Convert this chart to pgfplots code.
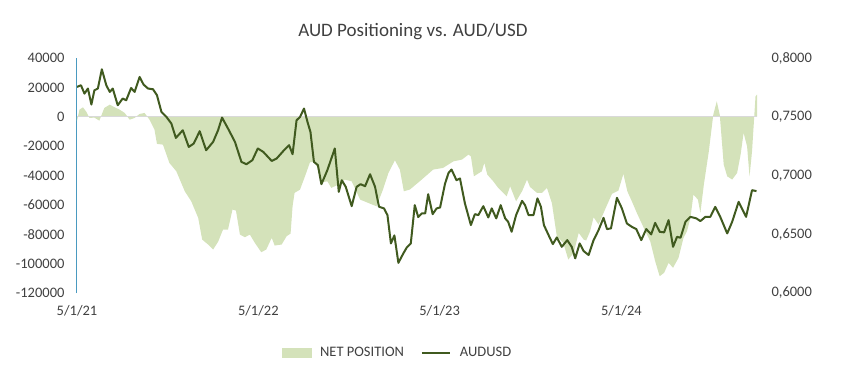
\documentclass[border=0pt]{standalone}
\usepackage{pgfplots}
\pgfplotsset{compat=1.18}
\usepackage{fontspec}
\setmainfont{Carlito}
\definecolor{areagreen}{HTML}{D4E2BA}
\definecolor{linegreen}{HTML}{405A1F}
\definecolor{txt}{HTML}{404040}
\definecolor{axblue}{HTML}{4A9AC0}
\definecolor{zerogray}{HTML}{D9D9D9}

\pgfplotstableread{
d net
0 -3000
5 4830
12 6400
19 3270
25 -800
35 -600
45 -2650
55 5990
66 8230
76 6400
86 4830
96 2590
106 -1970
116 -820
126 1900
136 2590
146 -1970
156 -8780
161 -18500
173 -18980
186 -31430
200 -37140
217 -50750
230 -57550
244 -68850
252 -83610
264 -87010
274 -90410
284 -85170
294 -76800
304 -76800
313 -63200
320 -63880
328 -80210
338 -82040
348 -80210
358 -85850
371 -92250
381 -90410
392 -82450
398 -87690
412 -87010
422 -81360
430 -79530
434 -60950
438 -51840
449 -49590
459 -40550
469 -31020
479 -30340
485 -35990
494 -44630
504 -43950
512 -48440
526 -46190
539 -42790
553 -43950
570 -56400
586 -58640
603 -60950
616 -49590
627 -38230
640 -29660
650 -35990
658 -50750
670 -49590
690 -43950
717 -35990
737 -34830
758 -30340
775 -29180
788 -25780
793 -26940
799 -40550
815 -37140
820 -31430
826 -39390
838 -43950
848 -48440
865 -54150
872 -47350
884 -57550
896 -50750
906 -42790
912 -47760
926 -51840
936 -51840
946 -48440
956 -58640
966 -81360
979 -85850
989 -97210
1000 -92660
1010 -79050
1020 -83610
1025 -84290
1033 -77960
1040 -68440
1050 -73400
1063 -63200
1077 -52520
1090 -50270
1100 -38910
1108 -50750
1117 -57550
1127 -65440
1141 -75650
1154 -84770
1164 -98370
1173 -108580
1182 -106260
1191 -99460
1200 -102860
1211 -96060
1221 -82450
1228 -77960
1235 -68850
1241 -52990
1250 -56400
1255 -65440
1262 -46190
1272 -23540
1281 1430
1288 10480
1294 1430
1302 -32590
1309 -40550
1319 -42790
1329 -38230
1336 -25780
1342 -11020
1349 -20140
1354 -40550
1359 -23540
1366 13880
1369 15030
}\nettable

\pgfplotstableread{
d aud
0 0.7754
8 0.7768
15 0.7697
22 0.7740
29 0.7604
35 0.7725
42 0.7740
50 0.7904
59 0.7768
66 0.7711
72 0.7740
82 0.7598
92 0.7655
99 0.7640
109 0.7745
116 0.7711
126 0.7839
134 0.7774
143 0.7740
153 0.7734
161 0.7683
170 0.7541
180 0.7499
190 0.7442
199 0.7320
207 0.7357
213 0.7385
225 0.7243
235 0.7272
247 0.7377
260 0.7215
274 0.7286
284 0.7385
292 0.7493
304 0.7400
318 0.7286
331 0.7116
341 0.7096
353 0.7130
364 0.7230
375 0.7201
392 0.7124
402 0.7145
418 0.7221
427 0.7258
434 0.7181
442 0.7470
449 0.7498
457 0.7570
464 0.7456
470 0.7371
477 0.7116
485 0.7088
492 0.6926
504 0.7045
519 0.7230
527 0.6861
533 0.6960
541 0.6904
553 0.6739
563 0.6904
571 0.6926
580 0.6909
590 0.7011
600 0.6904
608 0.6734
618 0.6720
625 0.6663
632 0.6422
639 0.6490
647 0.6257
657 0.6337
664 0.6388
672 0.6422
680 0.6748
687 0.6646
694 0.6677
701 0.6677
707 0.6841
716 0.6671
724 0.6720
731 0.6728
741 0.6932
748 0.7022
754 0.7051
764 0.6960
771 0.6975
781 0.6762
793 0.6578
801 0.6671
808 0.6663
818 0.6739
828 0.6643
835 0.6720
844 0.6635
853 0.6748
862 0.6635
868 0.6606
875 0.6521
884 0.6663
896 0.6784
902 0.6748
909 0.6663
919 0.6663
927 0.6805
934 0.6734
940 0.6578
951 0.6478
958 0.6416
966 0.6473
976 0.6393
987 0.6450
996 0.6393
1003 0.6295
1012 0.6422
1020 0.6357
1030 0.6323
1040 0.6450
1050 0.6535
1060 0.6640
1067 0.6544
1075 0.6550
1087 0.6810
1097 0.6720
1107 0.6592
1117 0.6563
1126 0.6544
1136 0.6450
1146 0.6544
1156 0.6499
1164 0.6597
1173 0.6521
1182 0.6516
1191 0.6620
1200 0.6393
1208 0.6478
1215 0.6470
1225 0.6606
1235 0.6648
1247 0.6635
1255 0.6612
1265 0.6648
1275 0.6648
1285 0.6733
1295 0.6648
1309 0.6507
1319 0.6606
1332 0.6776
1347 0.6648
1359 0.6875
1368 0.6867
}\audtable

\begin{document}
\begin{tikzpicture}
\useasboundingbox (0,0) rectangle (843pt,386pt);
\pgfplotsset{
  common/.style={
    at={(77pt,93pt)}, anchor=south west,
    scale only axis, width=680pt, height=235pt,
    xmin=0, xmax=1369,
    major tick length=0pt,
    tick label style={font=\fontsize{14.5}{16}\selectfont, text=txt},
    /pgf/number format/assume math mode=true,
  }
}
\begin{axis}[common,
  ymin=-120000, ymax=40000,
  ytick={-120000,-100000,-80000,-60000,-40000,-20000,0,20000,40000},
  scaled y ticks=false,
  /pgf/number format/fixed,
  /pgf/number format/1000 sep={},
  yticklabel style={xshift=-9pt},
  xtick={0,365,730,1096},
  xticklabels={5/1/21,5/1/22,5/1/23,5/1/24},
  xticklabel style={yshift=-9pt},
  axis x line*=bottom, axis y line*=left,
  x axis line style={draw=none},
  y axis line style={draw=axblue, line width=1pt},
  title={AUD Positioning vs. AUD/USD},
  title style={at={(0.494,1.089)}, anchor=center, font=\fontsize{19}{22}\selectfont, text=txt},
]
\addplot[fill=areagreen, draw=none] table[x=d, y=net] {\nettable} \closedcycle;
\addplot[zerogray, line width=1.3pt] coordinates {(0,0) (1369,0)};
\end{axis}
\begin{axis}[common,
  ymin=0.6, ymax=0.8,
  ytick={0.6,0.65,0.7,0.75,0.8},
  /pgf/number format/fixed,
  /pgf/number format/fixed zerofill,
  /pgf/number format/precision=4,
  /pgf/number format/use comma,
  yticklabel style={xshift=11pt},
  axis y line*=right, axis x line=none,
  y axis line style={draw=none},
  legend style={at={(0.4713,-0.255)}, anchor=center, draw=none, fill=none,
    legend columns=2, font=\fontsize{14.5}{16}\selectfont, text=txt,
    /tikz/every odd column/.append style={column sep=7pt},
    /tikz/every even column/.append style={column sep=15pt}},
  legend cell align=left,
]
\addlegendimage{legend image code/.code={\fill[areagreen] (0pt,-4.5pt) rectangle (29pt,4.5pt);}}
\addlegendentry{NET POSITION}
\addplot[linegreen, line width=2pt, line join=round,
  legend image code/.code={\draw[linegreen, line width=2pt] (0pt,0pt) -- (28pt,0pt);}]
  table[x=d, y=aud] {\audtable};
\addlegendentry{AUDUSD}
\end{axis}
\end{tikzpicture}
\end{document}
